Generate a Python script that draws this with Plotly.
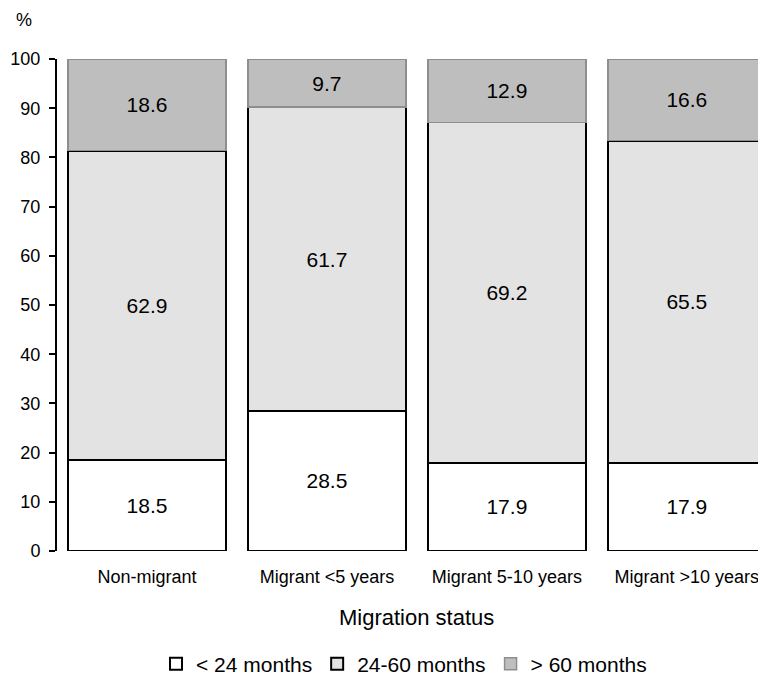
import plotly.graph_objects as go

categories = ["Non-migrant", "Migrant <5 years", "Migrant 5-10 years", "Migrant >10 years"]
lt24 = [18.5, 28.5, 17.9, 17.9]
m24_60 = [62.9, 61.7, 69.2, 65.5]
gt60 = [18.6, 9.7, 12.9, 16.6]
series_names = ["< 24 months", "24-60 months", "> 60 months"]
y_ticks = [0, 10, 20, 30, 40, 50, 60, 70, 80, 90, 100]

FONT = "Arial, Liberation Sans, sans-serif"

# page body has an 8px default margin; compensate so the plot lands where the reference has it
W, H = 758, 670
ML, MT, MB = 49, 51, 127
PW = W - ML
PH = H - MT - MB
def px(x):  # figure x pixel -> paper
    return (x - ML) / PW
def py(y):  # figure y pixel -> paper
    return (H - MB - y) / PH

fig = go.Figure()
styles = [
    dict(fill="#ffffff", line="#000000", lw=2),
    dict(fill="#e3e3e3", line="#000000", lw=2),
    dict(fill="#bebebe", line="#8e8e8e", lw=1.5),
]
for name, vals, st in zip(series_names, [lt24, m24_60, gt60], styles):
    fig.add_trace(go.Bar(
        x=categories, y=vals, name=name,
        marker=dict(color=st["fill"], line=dict(color=st["line"], width=st["lw"])),
        text=[f"{v:.1f}" for v in vals],
        textposition="inside", insidetextanchor="middle", textangle=0,
        textfont=dict(size=21, color="#000000", family=FONT),
        hoverinfo="skip",
    ))

fig.update_layout(
    barmode="stack",
    bargap=0.122,
    width=W, height=H,
    margin=dict(l=ML, r=0, t=MT, b=MB),
    paper_bgcolor="white", plot_bgcolor="white",
    font=dict(family=FONT, size=18, color="#000000"),
    showlegend=True,
    legend=dict(orientation="h", xref="container", yref="container",
                x=396 / W, xanchor="center", y=(H - 656) / H, yanchor="middle",
                font=dict(size=21), itemwidth=30, traceorder="normal"),
    uniformtext=dict(minsize=21, mode="show"),
    annotations=[
        dict(text="%", x=px(6), y=py(12), xref="paper", yref="paper", showarrow=False,
             xanchor="left", yanchor="middle", font=dict(size=18)),
        dict(text="Migration status", xref="paper", yref="paper",
             x=px(408), y=py(609), xanchor="center", yanchor="middle",
             showarrow=False, font=dict(size=22)),
    ],
)

fig.update_xaxes(range=[-0.5, 3.44], showline=False, ticks="", showgrid=False,
                 tickfont=dict(size=18), ticklabelstandoff=13)
fig.update_yaxes(range=[0, 100], tickvals=y_ticks, showline=True, linecolor="#000000",
                 linewidth=2, ticks="outside", ticklen=6, tickwidth=2, tickcolor="#000000",
                 showgrid=False, zeroline=False, tickfont=dict(size=18), ticklabelstandoff=5)

fig.write_html("out.html")
